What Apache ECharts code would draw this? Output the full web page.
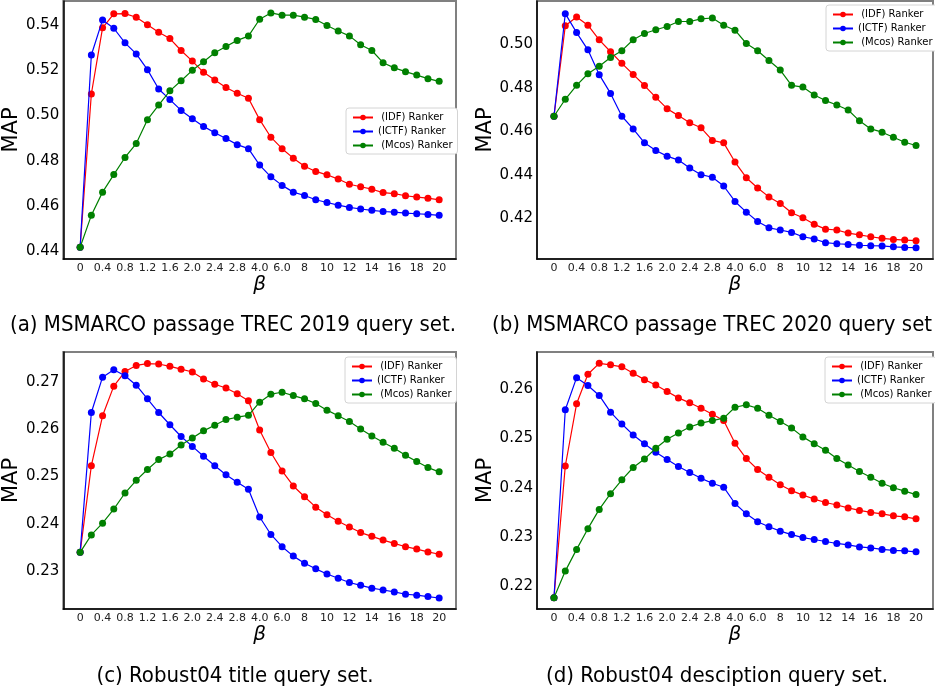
<!DOCTYPE html>
<html>
<head>
<meta charset="utf-8">
<title>MAP vs beta</title>
<script src="https://cdn.jsdelivr.net/npm/echarts@6/dist/echarts.min.js"></script>
<style>
  html, body { margin: 0; padding: 0; background: #fff; }
  #chart { width: 935px; height: 691px; }
</style>
</head>
<body>
<div id="chart"></div>
<script>
// beta values on the x axis (categorical, uneven steps)
const betaLabels = ['0', '0.2', '0.4', '0.6', '0.8', '1.0', '1.2', '1.4', '1.6', '1.8', '2.0', '2.2', '2.4', '2.6', '2.8', '3.0',
  '4.0', '5.0', '6.0', '7', '8', '9', '10', '11', '12', '13', '14', '15', '16', '17', '18', '19', '20'];

const seriesNames = [' (IDF) Ranker', '(ICTF) Ranker', ' (Mcos) Ranker'];

// (a) MSMARCO passage TREC 2019
const idfA = [0.4415, 0.5096, 0.5390, 0.5452, 0.5453, 0.5437, 0.5404, 0.5370, 0.5342, 0.5289, 0.5242, 0.5192, 0.5158, 0.5125, 0.5099, 0.5077,
  0.4982, 0.4904, 0.4853, 0.4811, 0.4775, 0.4752, 0.4737, 0.4718, 0.4695, 0.4684, 0.4673, 0.4658, 0.4653, 0.4644, 0.4638, 0.4633, 0.4626];
const ictfA = [0.4415, 0.5269, 0.5425, 0.5388, 0.5323, 0.5274, 0.5204, 0.5118, 0.5071, 0.5023, 0.4986, 0.4952, 0.4924, 0.4898, 0.4871, 0.4853,
  0.4780, 0.4728, 0.4690, 0.4660, 0.4645, 0.4626, 0.4614, 0.4602, 0.4592, 0.4585, 0.4579, 0.4574, 0.4571, 0.4567, 0.4564, 0.4561, 0.4557];
const mcosA = [0.4415, 0.4557, 0.4660, 0.4738, 0.4814, 0.4876, 0.4982, 0.5047, 0.5110, 0.5155, 0.5201, 0.5239, 0.5279, 0.5307, 0.5334, 0.5353,
  0.5428, 0.5456, 0.5446, 0.5446, 0.5437, 0.5427, 0.5400, 0.5376, 0.5354, 0.5315, 0.5289, 0.5235, 0.5212, 0.5195, 0.5180, 0.5164, 0.5152];

// (b) MSMARCO passage TREC 2020
const idfB = [0.4669, 0.5084, 0.5125, 0.5087, 0.5020, 0.4965, 0.4912, 0.4861, 0.4810, 0.4756, 0.4704, 0.4672, 0.4639, 0.4616, 0.4558, 0.4547,
  0.4459, 0.4387, 0.4340, 0.4299, 0.4269, 0.4226, 0.4203, 0.4173, 0.4151, 0.4147, 0.4133, 0.4125, 0.4116, 0.4109, 0.4104, 0.4101, 0.4098];
const ictfB = [0.4669, 0.5140, 0.5053, 0.4974, 0.4860, 0.4774, 0.4669, 0.4611, 0.4547, 0.4512, 0.4486, 0.4468, 0.4432, 0.4401, 0.4389, 0.4349,
  0.4278, 0.4229, 0.4186, 0.4157, 0.4147, 0.4136, 0.4116, 0.4106, 0.4089, 0.4084, 0.4081, 0.4077, 0.4075, 0.4074, 0.4070, 0.4067, 0.4066];
const mcosB = [0.4669, 0.4747, 0.4811, 0.4864, 0.4899, 0.4939, 0.4970, 0.5020, 0.5049, 0.5066, 0.5081, 0.5104, 0.5104, 0.5116, 0.5120, 0.5087,
  0.5064, 0.5003, 0.4970, 0.4925, 0.4881, 0.4811, 0.4803, 0.4767, 0.4741, 0.4721, 0.4698, 0.4648, 0.4611, 0.4596, 0.4573, 0.4550, 0.4535];

// (c) Robust04 title
const idfC = [0.2339, 0.2523, 0.2629, 0.2692, 0.2723, 0.2736, 0.2740, 0.2739, 0.2734, 0.2728, 0.2722, 0.2707, 0.2696, 0.2688, 0.2676, 0.2661,
  0.2599, 0.2551, 0.2512, 0.2480, 0.2457, 0.2435, 0.2419, 0.2405, 0.2393, 0.2381, 0.2373, 0.2365, 0.2358, 0.2351, 0.2346, 0.2340, 0.2335];
const ictfC = [0.2339, 0.2636, 0.2711, 0.2727, 0.2714, 0.2694, 0.2665, 0.2636, 0.2610, 0.2585, 0.2564, 0.2543, 0.2523, 0.2504, 0.2488, 0.2473,
  0.2414, 0.2377, 0.2351, 0.2331, 0.2316, 0.2304, 0.2293, 0.2284, 0.2275, 0.2269, 0.2263, 0.2259, 0.2255, 0.2250, 0.2248, 0.2245, 0.2242];
const mcosC = [0.2339, 0.2376, 0.2401, 0.2431, 0.2465, 0.2492, 0.2515, 0.2536, 0.2548, 0.2567, 0.2582, 0.2597, 0.2609, 0.2621, 0.2626, 0.2630,
  0.2658, 0.2675, 0.2679, 0.2672, 0.2665, 0.2655, 0.2641, 0.2629, 0.2617, 0.2601, 0.2586, 0.2573, 0.2560, 0.2545, 0.2532, 0.2519, 0.2510];

// (d) Robust04 description
const idfD = [0.2177, 0.2444, 0.2570, 0.2630, 0.2652, 0.2649, 0.2645, 0.2632, 0.2619, 0.2608, 0.2595, 0.2582, 0.2572, 0.2561, 0.2549, 0.2536,
  0.2490, 0.2459, 0.2437, 0.2421, 0.2406, 0.2394, 0.2385, 0.2377, 0.2370, 0.2365, 0.2359, 0.2354, 0.2350, 0.2347, 0.2343, 0.2341, 0.2337];
const ictfD = [0.2177, 0.2558, 0.2623, 0.2607, 0.2587, 0.2553, 0.2529, 0.2507, 0.2489, 0.2472, 0.2457, 0.2443, 0.2431, 0.2419, 0.2409, 0.2401,
  0.2368, 0.2347, 0.2331, 0.2321, 0.2312, 0.2305, 0.2299, 0.2295, 0.2291, 0.2287, 0.2284, 0.2280, 0.2278, 0.2275, 0.2273, 0.2272, 0.2270];
const mcosD = [0.2177, 0.2231, 0.2275, 0.2317, 0.2356, 0.2388, 0.2416, 0.2441, 0.2458, 0.2480, 0.2498, 0.2511, 0.2523, 0.2531, 0.2536, 0.2541,
  0.2563, 0.2568, 0.2561, 0.2547, 0.2534, 0.2521, 0.2503, 0.2489, 0.2476, 0.2459, 0.2446, 0.2433, 0.2421, 0.2409, 0.2400, 0.2393, 0.2386];

// y tick labels per panel
const yTicksA = [0.44, 0.46, 0.48, 0.50, 0.52, 0.54];
const yTicksB = [0.42, 0.44, 0.46, 0.48, 0.50];
const yTicksC = [0.23, 0.24, 0.25, 0.26, 0.27];
const yTicksD = [0.22, 0.23, 0.24, 0.25, 0.26];

const captions = [
  '(a) MSMARCO passage TREC 2019 query set.',
  '(b) MSMARCO passage TREC 2020 query set',
  '(c) Robust04 title query set.',
  '(d) Robust04 desciption query set.'
];

const colors = ['#ff0000', '#0000ff', '#008000'];

// panel layout
const panels = [
  { grid: { left: 58, top: 1, width: 398, height: 258 }, yMin: 0.4363, yMax: 0.5509, ticks: yTicksA, data: [idfA, ictfA, mcosA],
    legend: { left: 346, top: 108 }, caption: { x: 228, y: 309 } },
  { grid: { left: 537, top: 1, width: 396, height: 258 }, yMin: 0.4014, yMax: 0.5198, ticks: yTicksB, data: [idfB, ictfB, mcosB],
    legend: { left: 826, top: 5 }, caption: { x: 707, y: 309 } },
  { grid: { left: 58, top: 352, width: 398, height: 257 }, yMin: 0.22187, yMax: 0.27645, ticks: yTicksC, data: [idfC, ictfC, mcosC],
    legend: { left: 345, top: 357 }, caption: { x: 230, y: 660 } },
  { grid: { left: 537, top: 352, width: 396, height: 257 }, yMin: 0.21542, yMax: 0.2675, ticks: yTicksD, data: [idfD, ictfD, mcosD],
    legend: { left: 825, top: 357 }, caption: { x: 712, y: 660 } }
];

// pad one empty category on each side, like matplotlib's margins
const cats = [''].concat(betaLabels, ['']);
const showEveryOther = function (idx) { return idx % 2 === 1; };

const grids = [], xAxes = [], yAxes = [], series = [], legends = [], titles = [];

panels.forEach(function (p, i) {
  grids.push(Object.assign({ show: true, borderColor: '#808080', borderWidth: 2, backgroundColor: '#fff' }, p.grid));
  xAxes.push({
    type: 'category',
    gridIndex: i,
    data: cats,
    boundaryGap: true,
    name: 'β',
    nameLocation: 'middle',
    nameGap: 13,
    nameTextStyle: { fontFamily: 'DejaVu Sans', fontStyle: 'italic', fontSize: 20, color: '#000' },
    axisLine: { show: true, lineStyle: { color: '#000', width: 1.5 } },
    axisTick: { show: false },
    axisLabel: { interval: showEveryOther, fontFamily: 'DejaVu Sans', fontSize: 11, color: '#222', margin: 4 },
    splitLine: { show: false }
  });
  yAxes.push({
    type: 'value',
    gridIndex: i,
    min: p.yMin,
    max: p.yMax,
    name: 'MAP',
    nameLocation: 'middle',
    nameGap: 38,
    nameTextStyle: { fontFamily: 'DejaVu Sans', fontSize: 21, color: '#000' },
    axisLine: { show: true, lineStyle: { color: '#000', width: 1.5 } },
    axisTick: { show: false, customValues: p.ticks },
    axisLabel: {
      customValues: p.ticks,
      formatter: function (v) { return v.toFixed(2); },
      fontFamily: 'DejaVu Sans', fontSize: 15, color: '#000', margin: 4
    },
    splitLine: { show: false }
  });
  p.data.forEach(function (vals, k) {
    series.push({
      name: seriesNames[k],
      type: 'line',
      xAxisIndex: i,
      yAxisIndex: i,
      data: [null].concat(vals),
      symbol: 'circle',
      symbolSize: 7,
      color: colors[k],
      lineStyle: { color: colors[k], width: 1.2 },
      itemStyle: { color: colors[k] },
      z: 2 + k
    });
  });
  legends.push({
    data: seriesNames,
    orient: 'vertical',
    left: p.legend.left,
    top: p.legend.top,
    backgroundColor: '#fff',
    borderColor: '#d4d4d4',
    borderWidth: 1,
    borderRadius: 3,
    padding: [4, 5, 3, 6],
    itemGap: 3,
    itemWidth: 20,
    itemHeight: 7,
    selectedMode: false,
    textStyle: { fontFamily: 'DejaVu Sans', fontSize: 10, color: '#000', lineHeight: 11 }
  });
  titles.push({
    text: captions[i],
    left: p.caption.x,
    top: p.caption.y,
    textAlign: 'center',
    textStyle: { fontFamily: 'Liberation Sans Narrow, DejaVu Sans Condensed, sans-serif', fontSize: 22, fontWeight: 'normal', color: '#000' }
  });
});

const chart = echarts.init(document.getElementById('chart'));
chart.setOption({
  animation: false,
  title: titles,
  grid: grids,
  xAxis: xAxes,
  yAxis: yAxes,
  legend: legends,
  series: series
});
</script>
</body>
</html>
